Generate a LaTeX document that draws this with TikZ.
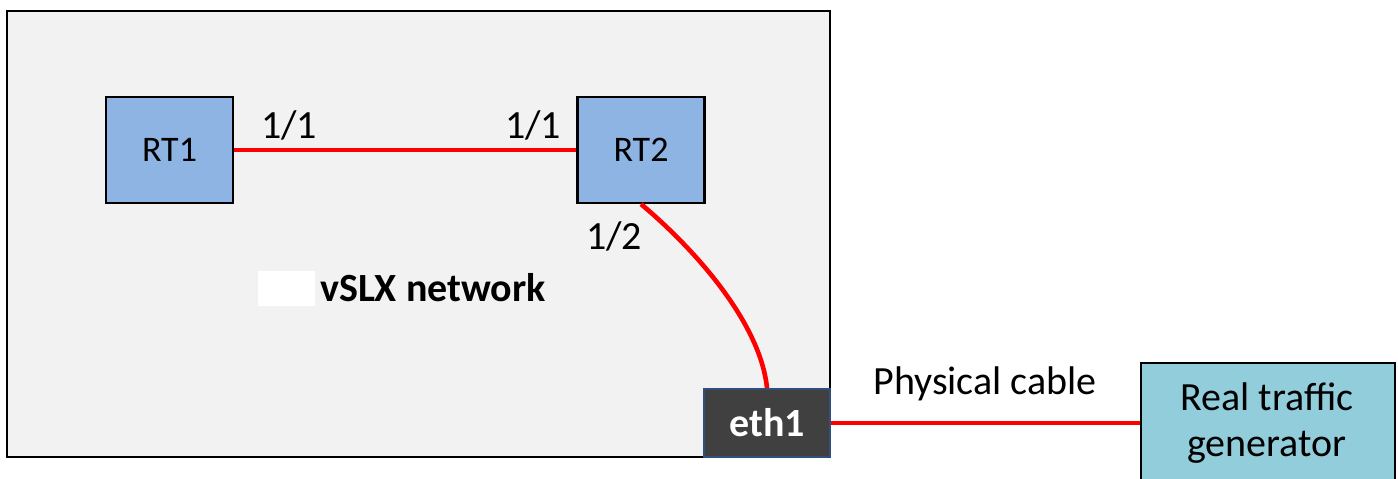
\documentclass[tikz,border=0pt]{standalone}
\usepackage{fontspec}
\setmainfont{Carlito}
\definecolor{bggray}{HTML}{F2F2F2}
\definecolor{rtblue}{HTML}{8EB4E3}
\definecolor{ethgray}{HTML}{404040}
\definecolor{ethborder}{HTML}{2F4F7F}
\definecolor{genblue}{HTML}{92CDDC}
\definecolor{linkred}{HTML}{FF0000}
\begin{document}
\begin{tikzpicture}[x=1pt,y=-1pt,
  rtbox/.style={draw=black,line width=2.2pt,fill=rtblue,minimum width=127pt,minimum height=106pt,inner sep=0pt,font=\fontsize{36}{40}\selectfont},
  link/.style={draw=linkred,line width=4.6pt},
  lbl/.style={font=\fontsize{40}{44}\selectfont,inner sep=0pt}]
\useasboundingbox (0,0) rectangle (1398,479);
\node[draw=black,line width=2.2pt,fill=bggray,minimum width=823pt,minimum height=446pt,inner sep=0pt] (net) at (418.5,234) {};
\node[rtbox] (rt1) at (169.5,150) {RT1};
\node[rtbox] (rt2) at (641,150) {RT2};
\node[draw=ethborder,line width=2pt,fill=ethgray,text=white,minimum width=126pt,minimum height=68pt,inner sep=0pt,font=\fontsize{40}{44}\selectfont\bfseries] (eth) at (767,423) {eth1};
\node[draw=black,line width=2.2pt,fill=genblue,minimum width=254pt,minimum height=130pt,inner sep=0pt] (gen) at (1268,428) {};
\node[lbl,align=center,font=\fontsize{40}{46}\selectfont] (gent) at (1267,423) {Real traffic\\generator};
\draw[link] (rt1.east) -- (rt2.west);
\draw[link] (rt2.south) .. controls (690,245) and (760,320) .. (eth.north);
\draw[link] (eth.east) -- (eth.east -| gen.west);
\node[lbl] (l1) at (289,125) {1/1};
\node[lbl] (l2) at (533,125) {1/1};
\node[lbl] (l3) at (614,236) {1/2};
\node[lbl] (pc) at (985,384) {Physical cable};
\node[fill=white,minimum width=57pt,minimum height=35pt,inner sep=0pt] (wb) at (286.5,288.5) {};
\node[lbl,font=\fontsize{40}{44}\selectfont\bfseries,anchor=west] (vs) at (320,288) {vSLX network};
\end{tikzpicture}
\end{document}
